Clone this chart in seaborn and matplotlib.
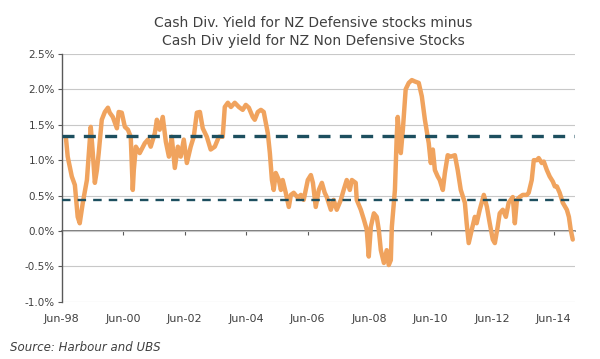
import numpy as np
import pandas as pd
import matplotlib
matplotlib.use('Agg')
import matplotlib.pyplot as plt
import seaborn as sns

# months since Jun-98 and the yield spread (%)
months = [1.6, 2.3, 3.9, 5.1, 6.2, 7.0, 8.2, 9.8, 11.3, 12.1, 12.9, 13.7, 14.4, 15.6, 16.8,
          18.0, 18.7, 19.9, 21.5, 22.2, 23.4, 24.6, 25.8, 26.9, 27.7, 28.1, 28.9, 30.4, 32.4,
          33.6, 34.7, 36.3, 37.1, 38.2, 39.4, 40.6, 41.8, 42.9, 44.1, 45.3, 46.4, 47.6, 48.8,
          50.3, 51.5, 52.7, 53.9, 55.0, 56.6, 58.1, 59.7, 61.3, 62.8, 63.6, 64.8, 66.0, 67.5,
          69.1, 70.6, 71.8, 73.0, 74.5, 75.3, 76.5, 77.7, 78.8, 80.4, 81.2, 82.0, 82.7, 83.5,
          84.7, 85.5, 86.2, 87.4, 88.6, 89.4, 90.5, 92.1, 93.3, 94.4, 96.0, 97.2, 98.0, 99.1,
          100.3, 101.5, 102.6, 103.4, 105.0, 106.1, 107.3, 108.9, 110.0, 111.2, 112.4, 113.2,
          114.7, 115.1, 116.7, 117.9, 119.0, 119.8, 120.6, 121.8, 122.9, 123.7, 124.5, 125.7,
          126.8, 127.6, 128.4, 128.8, 130.0, 130.7, 131.1, 131.9, 132.3, 133.1, 134.2, 135.4,
          136.6, 137.8, 139.3, 140.5, 141.7, 143.2, 144.0, 144.8, 145.6, 146.7, 147.5, 148.7,
          149.5, 150.6, 151.8, 153.4, 154.5, 155.7, 157.3, 158.0, 158.8, 160.0, 161.2, 161.9,
          163.1, 164.7, 165.9, 167.0, 168.2, 169.0, 170.1, 170.9, 172.1, 173.3, 174.4, 176.0,
          176.8, 177.6, 178.7, 179.9, 181.5, 182.2, 183.4, 184.2, 185.4, 186.1, 187.3, 188.1,
          189.3, 190.4, 191.6, 192.4, 193.2, 194.3, 195.5, 197.1, 197.9, 198.6, 199.4]
spread = [1.32, 1.05, 0.77, 0.65, 0.20, 0.11, 0.40, 0.72, 1.47, 1.10, 0.68, 0.86, 1.10, 1.57, 1.68,
          1.74, 1.67, 1.61, 1.45, 1.68, 1.67, 1.47, 1.43, 1.33, 0.58, 0.86, 1.19, 1.10, 1.24,
          1.29, 1.19, 1.38, 1.57, 1.43, 1.61, 1.26, 1.05, 1.33, 0.89, 1.19, 1.05, 1.29, 0.96,
          1.19, 1.33, 1.67, 1.68, 1.45, 1.33, 1.15, 1.19, 1.33, 1.33, 1.75, 1.81, 1.75, 1.81,
          1.75, 1.71, 1.78, 1.74, 1.61, 1.57, 1.68, 1.71, 1.68, 1.38, 1.10, 0.72, 0.58, 0.82,
          0.72, 0.58, 0.72, 0.54, 0.34, 0.51, 0.54, 0.47, 0.51, 0.44, 0.72, 0.79, 0.68, 0.34,
          0.58, 0.68, 0.54, 0.48, 0.30, 0.44, 0.30, 0.44, 0.58, 0.72, 0.58, 0.72,
          0.68, 0.44, 0.30, 0.16, 0.02, -0.36, 0.06, 0.25, 0.20, 0.02, -0.27, -0.45,
          -0.27, -0.48, -0.41, 0.06, 0.58, 1.33, 1.61, 1.24, 1.10, 1.43, 2.00, 2.09,
          2.13, 2.11, 2.09, 1.90, 1.57, 1.24, 0.96, 1.15, 0.86, 0.77, 0.72, 0.58,
          0.82, 1.07, 1.05, 1.07, 0.86, 0.58, 0.40, 0.11, -0.17, 0.02, 0.20, 0.11,
          0.30, 0.51, 0.34, 0.11, -0.12, -0.17, 0.06, 0.25, 0.30, 0.20, 0.40, 0.48,
          0.11, 0.44, 0.48, 0.51, 0.51, 0.54, 0.72, 1.00, 1.00, 1.03, 0.96, 0.98,
          0.86, 0.77, 0.70, 0.63, 0.63, 0.54, 0.40, 0.30, 0.20, 0.02, -0.12]

avg_high = 1.34
avg_low = 0.44

tick_months = list(range(0, 193, 24))
tick_labels = ['Jun-98', 'Jun-00', 'Jun-02', 'Jun-04', 'Jun-06',
               'Jun-08', 'Jun-10', 'Jun-12', 'Jun-14']
y_ticks = np.arange(-1.0, 2.51, 0.5)

sns.set_style('white')
plt.rcParams['font.family'] = ['Liberation Sans Narrow', 'DejaVu Sans']

grey = '#404040'
axis_grey = '#595959'
teal = '#1d4f5f'

fig = plt.figure(figsize=(6, 3.59), dpi=100)
ax = fig.add_axes([0.103, 0.159, 0.855, 0.691])

df = pd.DataFrame({'month': months, 'spread': spread})
sns.lineplot(data=df, x='month', y='spread', ax=ax, color='#F0A35E', lw=3.2,
             sort=False, estimator=None, zorder=2)

ax.axhline(avg_high, color=teal, lw=2.4, dashes=(3.6, 2.8), zorder=3)
ax.axhline(avg_low, color=teal, lw=1.7, dashes=(3.6, 3.0), zorder=3)

ax.set_xlim(0, 200.2)
ax.set_ylim(-1, 2.5)
ax.set_yticks(y_ticks)
ax.set_yticklabels([f'{v:.1f}%' for v in y_ticks])
ax.yaxis.grid(True, color='#c8c8c8', lw=0.8)
ax.xaxis.grid(False)
ax.set_axisbelow(True)
for s in ['top', 'right', 'bottom']:
    ax.spines[s].set_visible(False)
ax.spines['left'].set_color(axis_grey)
ax.spines['left'].set_linewidth(1)
ax.tick_params(axis='y', direction='out', length=3, width=0.8, color=axis_grey,
               labelsize=7.5, labelcolor=grey, pad=2, left=True)
ax.set_xticks(tick_months)
ax.set_xticklabels(tick_labels)
ax.tick_params(axis='x', length=0, pad=9, labelsize=8, labelcolor=grey)
ax.set_xlabel('')
ax.set_ylabel('')

# horizontal axis crossing at 0% with its tick marks
zero = ax.secondary_xaxis(1 / 3.5)
zero.set_xticks(tick_months)
zero.tick_params(axis='x', direction='out', length=3, width=0.8, color=axis_grey,
                 bottom=True, top=False, labelbottom=False, labeltop=False)
for s in ['top', 'bottom']:
    zero.spines[s].set_color(axis_grey)
    zero.spines[s].set_linewidth(1.1)

fig.text(0.522, 0.911, 'Cash Div. Yield for NZ Defensive stocks minus\n'
         'Cash Div yield for NZ Non Defensive Stocks',
         ha='center', va='center', fontsize=10, color=grey, linespacing=1.3)
fig.text(0.017, 0.031, 'Source: Harbour and UBS', ha='left', va='center',
         fontsize=8.5, style='italic', color=grey)

fig.savefig('out.png', dpi=100)
